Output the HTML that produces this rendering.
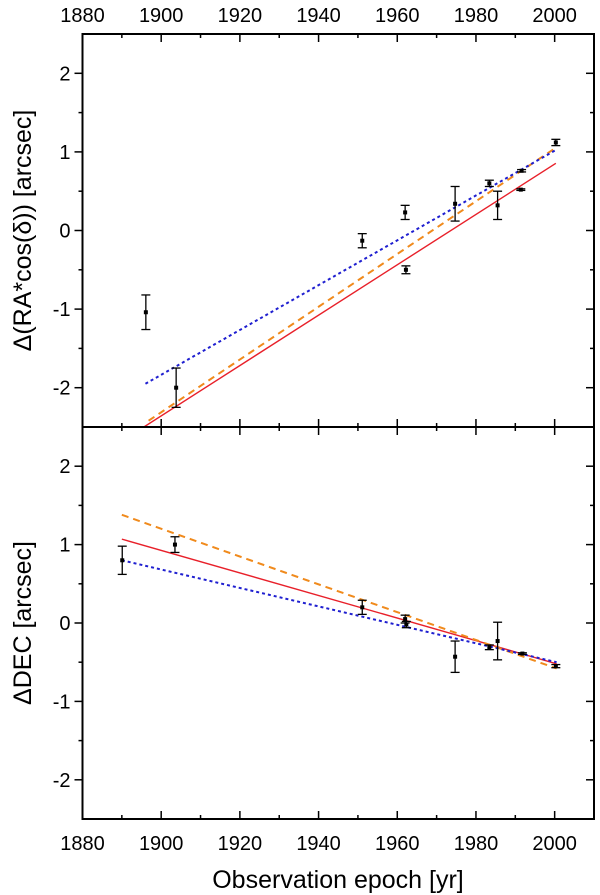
<!DOCTYPE html>
<html><head><meta charset="utf-8"><style>
html,body{margin:0;padding:0;background:#fff;}
svg{display:block;font-family:"Liberation Sans",Arial,sans-serif;}
</style></head><body>
<svg id="chart" width="600" height="895" viewBox="0 0 600 895" xmlns="http://www.w3.org/2000/svg"></svg>
<script>
// ---- data ----
const raYears = [1896.1, 1903.8, 1951.1, 1962.0, 1962.2, 1974.7, 1983.4, 1985.5, 1991.6, 1991.4, 2000.3];
const raValues = [-1.04, -2.0, -0.13, 0.23, -0.50, 0.34, 0.60, 0.32, 0.76, 0.52, 1.12];
const raErrors = [0.22, 0.25, 0.09, 0.09, 0.05, 0.22, 0.04, 0.18, 0.015, 0.01, 0.04];
const decYears = [1890.1, 1903.5, 1951.1, 1962.0, 1962.3, 1974.7, 1983.4, 1985.5, 1991.8, 2000.3];
const decValues = [0.80, 1.0, 0.20, 0.05, -0.02, -0.43, -0.31, -0.23, -0.39, -0.55];
const decErrors = [0.18, 0.1, 0.09, 0.05, 0.04, 0.2, 0.03, 0.24, 0.01, 0.02];
// fit lines: [startYear, startVal, endYear, endVal]
const raRedFit = [1895.6, -2.5, 2000.3, 0.855];
const raOrangeFit = [1896.8, -2.42, 2000.5, 1.06];
const raBlueFit = [1896.0, -1.95, 2000.5, 1.03];
const decRedFit = [1890.0, 1.07, 2000.5, -0.52];
const decOrangeFit = [1890.0, 1.38, 2000.5, -0.58];
const decBlueFit = [1890.0, 0.80, 2000.5, -0.50];
const xTickLabels = [1880, 1900, 1920, 1940, 1960, 1980, 2000];
const yTickLabels = [-2, -1, 0, 1, 2];

const svg = document.getElementById('chart');
const NS = 'http://www.w3.org/2000/svg';
const X0 = 82.5, X1 = 594, XMIN = 1880, XMAX = 2010;
const panels = [{top:34, bottom:427}, {top:427, bottom:819}];
function xs(v){ return X0 + (v - XMIN) / (XMAX - XMIN) * (X1 - X0); }
function ysFor(p){ return v => p.top + (2.5 - v) / 5 * (p.bottom - p.top); }
function mk(tag, attrs, parent){
  const e = document.createElementNS(NS, tag);
  for (const k in attrs) e.setAttribute(k, attrs[k]);
  (parent || svg).appendChild(e);
  return e;
}
function line(x1,y1,x2,y2,st,sw,parent){ return mk('line',{x1,y1,x2,y2,stroke:st,'stroke-width':sw},parent); }
function text(x,y,s,size,anchor,parent){ const t = mk('text',{x,y,'font-size':size,'text-anchor':anchor||'middle',fill:'#000'},parent); t.textContent = s; return t; }

function drawPanel(p, idx, years, vals, errs, fits, title){
  const ys = ysFor(p);
  const g = mk('g', {});
  
  
  const clipId = 'clip' + idx;
  const cp = mk('clipPath', {id: clipId}, g);
  mk('rect', {x:X0, y:p.top, width:X1-X0, height:p.bottom-p.top}, cp);
  const styles = [['#e8202a', 1.4, ''], ['#f08a1c', 2, '7,5'], ['#1f1fd0', 2, '3,3']];
  const names = ['red-fit-line', 'orange-fit-line', 'blue-fit-line'];
  fits.forEach((f, i) => {
    const l = mk('line', {x1:xs(f[0]), y1:ys(f[1]), x2:xs(f[2]), y2:ys(f[3]), stroke:styles[i][0], 'stroke-width':styles[i][1], 'clip-path':'url(#'+clipId+')'}, g);
    if (styles[i][2]) l.setAttribute('stroke-dasharray', styles[i][2]);
    
    
  });
  years.forEach((yr, i) => {
    const cx = xs(yr), cy = ys(vals[i]), top = ys(vals[i] + errs[i]), bot = ys(vals[i] - errs[i]);
    const pg = mk('g', {}, g);
    
    
    line(cx, top, cx, bot, '#000', 1.3, pg);
    line(cx-4.5, top, cx+4.5, top, '#000', 1.3, pg);
    line(cx-4.5, bot, cx+4.5, bot, '#000', 1.3, pg);
    mk('rect', {x:cx-2, y:cy-2, width:4, height:4, fill:'#000'}, pg);
  });
  const fr = mk('rect', {x:X0, y:p.top, width:X1-X0, height:p.bottom-p.top, fill:'none', stroke:'#000', 'stroke-width':2}, g);
  
  
  for (let y = 1880; y <= 2010; y += 10) {
    const major = y % 20 === 0, len = major ? 8 : 4, x = xs(y);
    if (y > 1880 && y < 2010) {
      line(x, p.top, x, p.top + len, '#000', 1.5, g);
      line(x, p.bottom, x, p.bottom - len, '#000', 1.5, g);
    }
  }
  for (let v = -2; v <= 2; v += 0.5) {
    const major = Number.isInteger(v), len = major ? 8 : 4, y = ys(v);
    line(X0 - len, y, X0, y, '#000', 1.5, g);
    line(X1 - len, y, X1, y, '#000', 1.5, g);
  }
  yTickLabels.forEach(v => {
    const t = text(X0 - 12, ys(v) + 7, String(v), 20, 'end', g);
    
    
  });
  const cy = (p.top + p.bottom) / 2;
  const tt = text(0, 0, title, 25, 'middle', g);
  tt.setAttribute('transform', 'translate(31,' + cy + ') rotate(-90)');
  
  
}

drawPanel(panels[0], 0, raYears, raValues, raErrors, [raRedFit, raOrangeFit, raBlueFit], 'Δ(RA*cos(δ)) [arcsec]');
drawPanel(panels[1], 1, decYears, decValues, decErrors, [decRedFit, decOrangeFit, decBlueFit], 'ΔDEC [arcsec]');

xTickLabels.forEach(v => {
  const t1 = text(xs(v), 22, String(v), 20);
  
  
  const t2 = text(xs(v), 850, String(v), 20);
  
  
});
const xt = text(338, 888, 'Observation epoch [yr]', 25);


</script>
</body></html>
